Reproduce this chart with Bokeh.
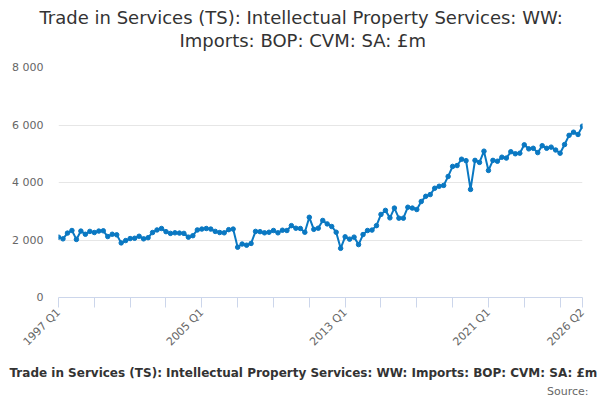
import math
from bokeh.plotting import figure
from bokeh.models import FixedTicker, Range1d, Title
from bokeh.embed import file_html
from bokeh.resources import INLINE

TITLE_LINES = ["Trade in Services (TS): Intellectual Property Services: WW:",
               "Imports: BOP: CVM: SA: £m"]
SERIES_NAME = ("Trade in Services (TS): Intellectual Property Services: WW: "
               "Imports: BOP: CVM: SA: £m")
SOURCE = "Source:"

# quarterly periods, 1997 Q1 .. 2026 Q2
quarters = ["%d Q%d" % (y, q) for y in range(1997, 2027) for q in range(1, 5)][:118]

# £m
values = [
    2100, 2040, 2240, 2330, 2020, 2310, 2200, 2300, 2260, 2310, 2320, 2120,
    2200, 2180, 1900, 1980, 2050, 2060, 2130, 2040, 2080, 2260,
    2350, 2400, 2290, 2230, 2250, 2240, 2230, 2100, 2150, 2350, 2380, 2400,
    2380, 2300, 2260, 2250, 2360, 2380, 1750, 1860, 1820, 1880,
    2300, 2290, 2250, 2270, 2330, 2250, 2340, 2330, 2500, 2410, 2400, 2270,
    2790, 2370, 2410, 2680, 2560, 2470, 2270, 1710, 2110,
    2030, 2100, 1840, 2190, 2330, 2345, 2500, 2890, 3030, 2770, 3110, 2760,
    2760, 3140, 3110, 3060, 3340, 3520, 3580, 3800, 3870,
    3900, 4210, 4560, 4590, 4810, 4760, 3760, 4770, 4700, 5090, 4420, 4770,
    4740, 4880, 4850, 5070, 5000, 5020, 5310, 5170, 5190, 5040, 5280, 5190,
    5230, 5130, 5020, 5320, 5640, 5750, 5670, 5960,
]

x_ticks = [0, 8, 16, 24, 32, 40, 48, 56, 64, 72, 80, 88, 96, 104, 112, 117]
x_labelled = ["1997 Q1", "2005 Q1", "2013 Q1", "2021 Q1", "2026 Q2"]
y_ticks = [0, 2000, 4000, 6000, 8000]
y_tick_labels = ["0", "2 000", "4 000", "6 000", "8 000"]

BLUE = "#0a78c2"
FONT = "DejaVu Sans"

xs = list(range(len(values)))

p = figure(width=600, height=400, output_backend="svg", toolbar_location=None,
           x_range=Range1d(0, len(values) - 1), y_range=Range1d(0, 8000),
           min_border_left=58, min_border_right=18,
           min_border_top=67, min_border_bottom=103)
p.outline_line_color = None
p.background_fill_color = "white"
p.border_fill_color = "white"

p.line(xs, values, line_color=BLUE, line_width=2)
p.scatter(xs, values, size=4.5, fill_color=BLUE, line_color=BLUE)

# x axis
p.xaxis.ticker = FixedTicker(ticks=x_ticks)
p.xaxis.major_label_overrides = {
    t: (quarters[t] if quarters[t] in x_labelled else "") for t in x_ticks}
p.xaxis.major_label_orientation = math.pi / 4
p.xaxis.axis_line_color = "#ccd6eb"
p.xaxis.major_tick_line_color = "#ccd6eb"
p.xaxis.major_tick_out = 10
p.xaxis.major_tick_in = 0
p.xaxis.minor_tick_line_color = None
p.xaxis.major_label_standoff = 3
p.xaxis.major_label_text_font = FONT
p.xaxis.major_label_text_font_size = "11px"
p.xaxis.major_label_text_color = "#666666"
p.xgrid.grid_line_color = None

# y axis
p.yaxis.ticker = FixedTicker(ticks=y_ticks)
p.yaxis.major_label_overrides = dict(zip(y_ticks, y_tick_labels))
p.yaxis.axis_line_color = None
p.yaxis.major_tick_line_color = None
p.yaxis.minor_tick_line_color = None
p.yaxis.major_tick_out = 0
p.yaxis.major_label_standoff = 15
p.yaxis.major_label_text_font = FONT
p.yaxis.major_label_text_font_size = "11px"
p.yaxis.major_label_text_color = "#666666"
p.ygrid.ticker = FixedTicker(ticks=y_ticks)
p.ygrid.grid_line_color = "#e6e6e6"


def spacer(gap):
    # blank title used only to push the real texts away from the plot
    return Title(text=" ", text_font_size="1px", standoff=gap)


# two-line title, stacked outward from the plot; offsets put it
# in the middle of the whole chart rather than of the plot frame
p.add_layout(spacer(14), "above")
for line, shift in [(TITLE_LINES[1], 121), (TITLE_LINES[0], -19)]:
    p.add_layout(Title(text=line, align="left", offset=shift, standoff=0,
                       text_font=FONT, text_font_size="18px",
                       text_font_style="normal", text_color="#333333"),
                 "above")

# series name and source under the axis
p.add_layout(spacer(4), "below")
p.add_layout(Title(text=SERIES_NAME, align="left", offset=-49, standoff=0,
                   text_font=FONT, text_font_size="12px",
                   text_font_style="bold", text_color="#333333"), "below")
p.add_layout(Title(text=SOURCE, align="right", offset=-6, standoff=6,
                   text_font=FONT, text_font_size="11px",
                   text_font_style="normal", text_color="#666666"), "below")

open("out.html", "w", encoding="utf-8").write(file_html(p, INLINE))
